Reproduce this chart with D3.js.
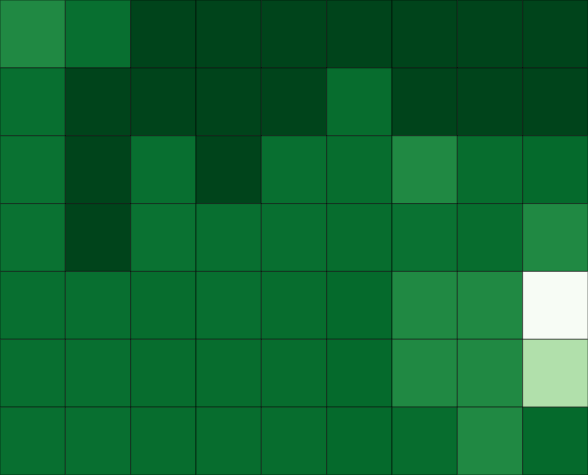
<!DOCTYPE html>
<html>
<head>
<meta charset="utf-8">
<script src="https://cdn.jsdelivr.net/npm/d3@7"></script>
<style>
  html, body { margin: 0; padding: 0; background: #fff; overflow: hidden; }
  svg { display: block; }
</style>
</head>
<body>
<svg id="chart" width="588" height="475"></svg>
<script>
const columns = ["C1", "C2", "C3", "C4", "C5", "C6", "C7", "C8", "C9"];
const rows = ["R1", "R2", "R3", "R4", "R5", "R6", "R7"];
const values = [
  [0.76, 0.86, 1.00, 1.00, 1.00, 1.00, 1.00, 1.00, 1.00],
  [0.86, 1.00, 1.00, 1.00, 1.00, 0.87, 1.00, 1.00, 1.00],
  [0.85, 1.00, 0.86, 1.00, 0.86, 0.87, 0.76, 0.87, 0.88],
  [0.85, 1.00, 0.85, 0.86, 0.86, 0.87, 0.85, 0.87, 0.76],
  [0.86, 0.86, 0.87, 0.86, 0.87, 0.88, 0.76, 0.76, 0.00],
  [0.86, 0.86, 0.87, 0.87, 0.87, 0.88, 0.76, 0.76, 0.32],
  [0.86, 0.86, 0.87, 0.87, 0.87, 0.88, 0.87, 0.76, 0.88]
];

const W = 588, H = 475;
const svg = d3.select("#chart");
const x = d3.scaleBand().domain(columns).range([0, W]).padding(0);
const y = d3.scaleBand().domain(rows).range([0, H]).padding(0);
const color = d3.scaleSequential(d3.interpolateGreens).domain([0, 1]);

const cells = [];
rows.forEach((r, i) => columns.forEach((c, j) => cells.push({ r, c, v: values[i][j] })));

svg.append("g")
  .selectAll("rect")
  .data(cells)
  .join("rect")
  .attr("x", d => x(d.c))
  .attr("y", d => y(d.r))
  .attr("width", x.bandwidth())
  .attr("height", y.bandwidth())
  .attr("fill", d => color(d.v))
  .attr("stroke", "#000")
  .attr("stroke-opacity", 0.5)
  .attr("stroke-width", 1);
</script>
</body>
</html>
